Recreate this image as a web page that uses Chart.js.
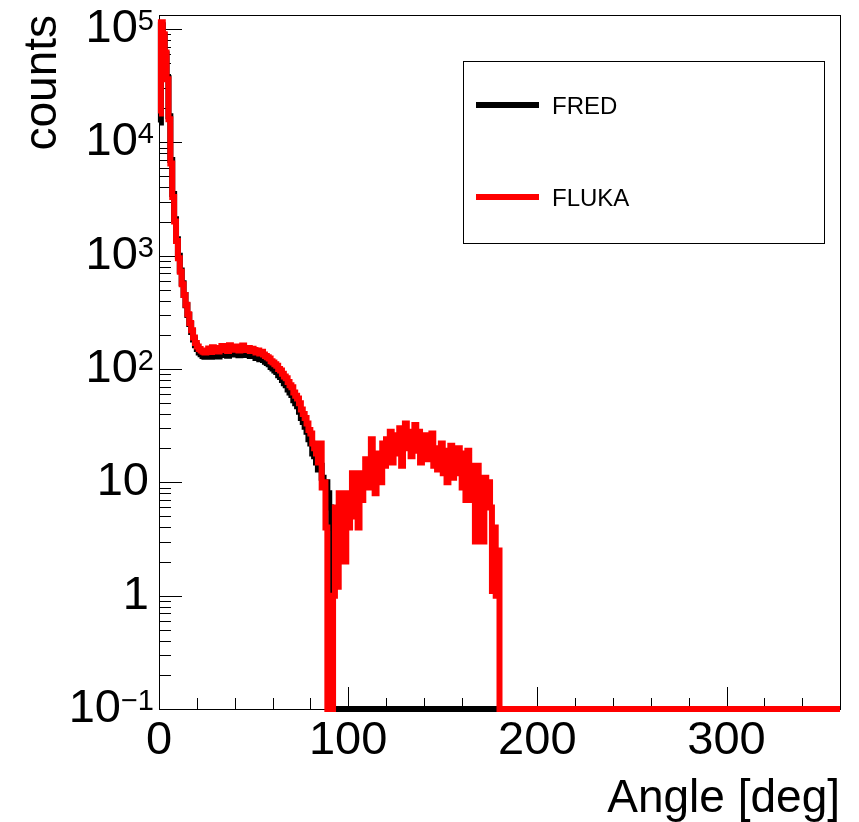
<!DOCTYPE html>
<html>
<head>
<meta charset="utf-8">
<title>Angular distribution: FRED vs FLUKA</title>
<script src="https://cdn.jsdelivr.net/npm/chart.js@4.4.1/dist/chart.umd.min.js"></script>
<style>
  html, body { margin: 0; padding: 0; background: #ffffff; }
  #wrap { width: 859px; height: 822px; }
</style>
</head>
<body>
<div id="wrap"><canvas id="c" width="859" height="822"></canvas></div>
<script>
// ---- Histogram contents: 1-degree bins starting at 0 deg. Bins past the end of an array are empty.
const BIN_WIDTH = 1;
const N_BINS = 360;

const fredCounts = [
  15000, 108000, 88000, 60000, 37000, 17000, 7000, 3500, 2100, 1400,
  1000, 740, 570, 450, 365, 300, 250, 212, 182, 162,
  150, 140, 135, 130, 128, 132, 136, 128, 140, 132,
  136, 129, 138, 143, 133, 137, 131, 145, 138, 134,
  142, 136, 132, 140, 145, 136, 133, 139, 130, 135,
  132, 125, 130, 122, 127, 120, 116, 113, 110, 104,
  101, 97, 94, 88, 85, 80, 75, 72, 66, 62,
  59, 53, 50, 47, 42, 37, 34, 31, 28, 24,
  22, 18, 17, 15, 13, 14, 11, 10, 10, 8,
  6, 4
];

const flukaCounts = [
  18000, 115000, 90000, 62000, 36000, 16000, 6500, 3300, 2000, 1350,
  950, 720, 560, 450, 370, 305, 255, 220, 190, 170,
  158, 150, 146, 142, 140, 145, 152, 141, 156, 146,
  151, 143, 153, 160, 147, 151, 144, 162, 152, 148,
  158, 150, 146, 156, 161, 150, 147, 153, 144, 151,
  147, 140, 146, 137, 142, 134, 130, 127, 124, 117,
  114, 110, 107, 100, 97, 91, 86, 83, 77, 72,
  69, 62, 58, 55, 50, 44, 40, 37, 33, 29,
  27, 22, 20, 18, 15, 22, 9, 10, 4, 0,
  0, 0, 1.0, 6, 1.2, 8, 3, 5, 2, 8,
  4, 6, 12, 5, 8, 4, 12, 7, 10, 16,
  9, 14, 24, 11, 8, 15, 18, 10, 22, 14,
  24, 17, 28, 15, 20, 26, 18, 30, 14, 24,
  33, 20, 28, 17, 25, 32, 19, 28, 15, 22,
  18, 26, 16, 21, 27, 14, 20, 13, 18, 22,
  12, 19, 10, 17, 21, 11, 16, 12, 20, 18,
  9, 16, 7, 19, 14, 7, 12, 3, 14, 6,
  9, 3, 11, 7, 10, 6, 1.1, 4, 1.0, 2.5
];

// ---- Axes
const X_MIN = 0, X_MAX = 360;
const Y_MIN = 0.1, Y_MAX = 1.33e5;
const xMajorTicks = [0, 100, 200, 300];
const xMinorStep = 20;
const yDecades = [-1, 0, 1, 2, 3, 4, 5];

const FONT = '"Liberation Sans", Arial, Helvetica, sans-serif';
const HIST_LINE = 6;

// Histogram -> step polyline at bin low edges; empty bins sit on the frame floor.
function histPoints(counts) {
  const pts = [];
  for (let i = 0; i < N_BINS; i++) {
    const c = i < counts.length ? counts[i] : 0;
    pts.push({ x: X_MIN + i * BIN_WIDTH, y: Math.max(c, Y_MIN) });
  }
  pts.push({ x: X_MAX, y: pts[pts.length - 1].y });
  return pts;
}

function line(ctx, x1, y1, x2, y2) {
  ctx.beginPath(); ctx.moveTo(x1, y1); ctx.lineTo(x2, y2); ctx.stroke();
}

// Frame, inward ticks, decade labels and legend box.
const rootStyle = {
  id: 'rootStyle',
  beforeDatasetsDraw(chart) {
    const { ctx, chartArea: a, scales: { x, y } } = chart;
    ctx.save();
    ctx.strokeStyle = '#000';
    ctx.lineWidth = 1;
    ctx.strokeRect(Math.round(a.left) + 0.5, Math.round(a.top) + 0.5,
                   Math.round(a.right - a.left), Math.round(a.bottom - a.top));
    for (let v = X_MIN; v <= X_MAX; v += xMinorStep) {
      const px = Math.round(x.getPixelForValue(v)) + 0.5;
      const len = xMajorTicks.includes(v) ? 22 : 11;
      line(ctx, px, a.bottom, px, a.bottom - len);
    }
    for (const e of yDecades) {
      for (let m = 1; m <= 9; m++) {
        const v = m * Math.pow(10, e);
        if (v < Y_MIN || v > Y_MAX) continue;
        const py = Math.round(y.getPixelForValue(v)) + 0.5;
        line(ctx, a.left, py, a.left + (m === 1 ? 23 : 12), py);
      }
    }
    ctx.restore();
  },
  afterDraw(chart) {
    const { ctx, scales: { y } } = chart;
    ctx.save();
    ctx.fillStyle = '#000';
    // decade labels, 10^n with raised exponent
    for (const e of yDecades) {
      const py = y.getPixelForValue(Math.pow(10, e));
      ctx.textBaseline = 'middle';
      if (e === 0 || e === 1) {
        ctx.font = '47px ' + FONT;
        ctx.textAlign = 'right';
        ctx.fillText(e === 0 ? '1' : '10', 149, py);
      } else {
        const sup = String(e).replace('-', '\u2212');
        ctx.font = '29px ' + FONT;
        const w = ctx.measureText(sup).width;
        ctx.textAlign = 'right';
        ctx.textBaseline = 'alphabetic';
        ctx.fillText(sup, 154, py + 1);
        ctx.font = '47px ' + FONT;
        ctx.textBaseline = 'middle';
        ctx.fillText('10', 154 - w, py);
      }
    }
    // legend
    const box = { x: 463, y: 61, w: 361, h: 182 };
    ctx.fillStyle = '#fff';
    ctx.fillRect(box.x, box.y, box.w, box.h);
    ctx.strokeStyle = '#000';
    ctx.lineWidth = 1;
    ctx.strokeRect(box.x + 0.5, box.y + 0.5, box.w, box.h);
    const rowY = [105, 197];
    chart.data.datasets.forEach((ds, i) => {
      ctx.strokeStyle = ds.borderColor;
      ctx.lineWidth = HIST_LINE;
      line(ctx, 476, rowY[i], 539, rowY[i]);
      ctx.fillStyle = '#000';
      ctx.font = '24px ' + FONT;
      ctx.textAlign = 'left';
      ctx.textBaseline = 'alphabetic';
      ctx.fillText(ds.label, 552, rowY[i] + 9);
    });
    ctx.restore();
  }
};

new Chart(document.getElementById('c'), {
  type: 'line',
  data: {
    datasets: [
      {
        label: 'FRED',
        data: histPoints(fredCounts),
        borderColor: '#000000',
        borderWidth: HIST_LINE,
        stepped: 'before',
        pointRadius: 0,
        fill: false,
        borderJoinStyle: 'miter',
        borderCapStyle: 'butt',
        clip: 4,
        order: 1
      },
      {
        label: 'FLUKA',
        data: histPoints(flukaCounts),
        borderColor: '#ff0000',
        borderWidth: HIST_LINE,
        stepped: 'before',
        pointRadius: 0,
        fill: false,
        borderJoinStyle: 'miter',
        borderCapStyle: 'butt',
        clip: 4,
        order: 0
      }
    ]
  },
  options: {
    responsive: false,
    animation: false,
    devicePixelRatio: 1,
    parsing: false,
    normalized: true,
    layout: { padding: { left: 0, right: 19, top: 15, bottom: 0 } },
    plugins: { legend: { display: false }, tooltip: { enabled: false } },
    scales: {
      x: {
        type: 'linear',
        min: X_MIN,
        max: X_MAX,
        grid: { display: false, drawTicks: false },
        border: { display: false },
        ticks: {
          stepSize: 100,
          includeBounds: false,
          autoSkip: false,
          maxRotation: 0,
          padding: 4,
          color: '#000',
          font: { family: FONT, size: 47 },
          callback: (v) => (xMajorTicks.includes(v) ? String(v) : null)
        },
        title: {
          display: true,
          text: 'Angle [deg]',
          align: 'end',
          color: '#000',
          font: { family: FONT, size: 46, lineHeight: 1 },
          padding: { top: 0, bottom: 0 }
        },
        afterFit: (s) => { s.height = 113; }
      },
      y: {
        type: 'logarithmic',
        min: Y_MIN,
        max: Y_MAX,
        grid: { display: false, drawTicks: false },
        border: { display: false },
        ticks: { display: false },
        title: {
          display: true,
          text: 'counts',
          align: 'end',
          color: '#000',
          font: { family: FONT, size: 46, lineHeight: 1 },
          padding: { top: 20, bottom: 0 }
        },
        afterFit: (s) => { s.width = 159; }
      }
    }
  },
  plugins: [rootStyle]
});
</script>
</body>
</html>
